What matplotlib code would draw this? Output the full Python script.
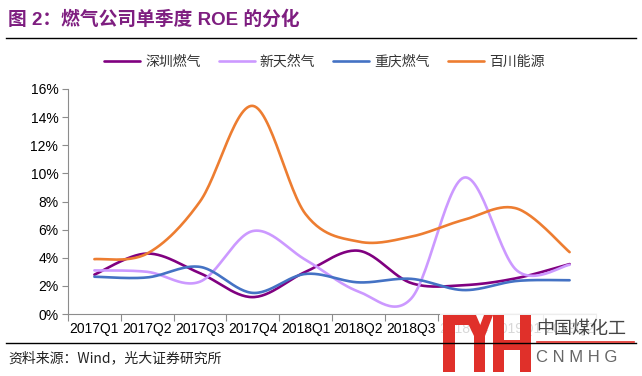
import numpy as np
import matplotlib
matplotlib.use("Agg")
import matplotlib.pyplot as plt
from matplotlib.patches import Rectangle, Polygon
from matplotlib import rcParams

rcParams['font.family'] = ['Liberation Sans', 'Noto Sans CJK SC', 'DejaVu Sans']
rcParams['axes.edgecolor'] = '#8c8c8c'
rcParams['xtick.color'] = '#8c8c8c'
rcParams['ytick.color'] = '#8c8c8c'
rcParams['xtick.labelcolor'] = 'black'
rcParams['ytick.labelcolor'] = 'black'

# data (ROE, %)
quarters = ['2017Q1', '2017Q2', '2017Q3', '2017Q4', '2018Q1',
            '2018Q2', '2018Q3', '2018Q4', '2019Q1', '2019Q2']
names = ['深圳燃气', '新天然气', '重庆燃气', '百川能源']
shenzhen = [2.8, 4.3, 2.9, 1.2, 3.0, 4.5, 2.2, 2.05, 2.55, 3.55]
xintian = [3.1, 3.0, 2.3, 5.9, 3.85, 1.6, 1.1, 9.7, 3.1, 3.5]
chongqing = [2.65, 2.6, 3.35, 1.5, 2.85, 2.25, 2.5, 1.7, 2.35, 2.4]
baichuan = [3.9, 4.3, 8.0, 14.8, 7.1, 5.15, 5.5, 6.7, 7.5, 4.4]
colors = ['#800080', '#CC99FF', '#4472C4', '#ED7D31']


def smooth(y, n=30):
    # Excel-like smoothed line (Catmull-Rom bezier)
    y = np.asarray(y, float)
    x = np.arange(len(y), dtype=float)
    px, py = [], []
    for i in range(len(y) - 1):
        x0, x3 = x[i], x[i + 1]
        y0, y3 = y[i], y[i + 1]
        xm = x[i - 1] if i > 0 else x0
        ym = y[i - 1] if i > 0 else y0
        xp = x[i + 2] if i + 2 < len(y) else x3
        yp = y[i + 2] if i + 2 < len(y) else y3
        x1, y1 = x0 + (x3 - xm) / 6, y0 + (y3 - ym) / 6
        x2, y2 = x3 - (xp - x0) / 6, y3 - (yp - y0) / 6
        t = np.linspace(0, 1, n)
        a, b, c, d = (1 - t) ** 3, 3 * (1 - t) ** 2 * t, 3 * (1 - t) * t ** 2, t ** 3
        px.extend(a * x0 + b * x1 + c * x2 + d * x3)
        py.extend(a * y0 + b * y1 + c * y2 + d * y3)
    return np.array(px), np.array(py)


fig = plt.figure(figsize=(6.42, 3.76), dpi=100)
ax = fig.add_axes([68 / 642, 1 - 314 / 376, 528 / 642, 225 / 376])

for vals, name, col in zip([shenzhen, xintian, chongqing, baichuan], names, colors):
    sx, sy = smooth(vals)
    ax.plot(sx, sy, color=col, lw=1.9, label=name, solid_capstyle='round')

ax.set_xlim(-0.5, len(quarters) - 0.5)
ax.set_ylim(0, 16)
ax.set_yticks(np.arange(0, 17, 2))
ax.set_yticklabels(['%d%%' % v for v in range(0, 17, 2)], fontsize=10)
ax.set_xticks(np.arange(-0.5, len(quarters), 1))
ax.set_xticklabels([])
ax.set_xticks(np.arange(len(quarters)), minor=True)
ax.set_xticklabels(quarters, minor=True, fontsize=10)
ax.tick_params(axis='x', which='major', length=5, width=0.8, direction='out')
ax.tick_params(axis='x', which='minor', length=0, pad=6)
ax.tick_params(axis='y', length=4, width=0.8, direction='out', pad=3)
for s in ['top', 'right']:
    ax.spines[s].set_visible(False)
ax.spines['left'].set_linewidth(0.8)
ax.spines['bottom'].set_linewidth(0.8)

leg = fig.legend(loc='center', bbox_to_anchor=(0.505, 1 - 62 / 376), ncol=4,
                 frameon=False, handlelength=2.6, handletextpad=0.35,
                 columnspacing=1.3, prop={'family': ['Noto Sans CJK SC'], 'size': 10})
for t in leg.get_texts():
    t.set_color('#333333')

# title and rules
fig.text(8 / 642, 1 - 19 / 376, '图 2：燃气公司单季度 ROE 的分化', fontsize=13.5,
         fontweight='bold', color='#7E1E80', va='center', ha='left',
         family=['Liberation Sans', 'Noto Sans CJK SC'])
fig.add_artist(plt.Line2D([6 / 642, 636 / 642], [1 - 38 / 376] * 2, color='black', lw=1))
fig.add_artist(plt.Line2D([6 / 642, 636 / 642], [1 - 343 / 376] * 2, color='black', lw=1))
fig.text(8 / 642, 1 - 358 / 376, '资料来源：Wind，光大证券研究所', fontsize=10,
         va='center', ha='left', color='#222222',
         family=['Noto Sans CJK SC', 'DejaVu Sans'])


# watermark logo (figure pixel coords)
def fx(p):
    return p / 642


def fy(p):
    return 1 - p / 376


fig.add_artist(Rectangle((fx(440), fy(376)), fx(202), 62 / 376, transform=fig.transFigure,
                         facecolor='white', alpha=0.85, edgecolor='none'))
red = '#E0302A'
for x0, y0, w, h in [(443, 315, 12, 57), (443, 315, 26, 10), (474, 336, 11, 36),
                     (493, 315, 11, 57), (520, 315, 11, 57), (493, 340, 38, 10)]:
    fig.add_artist(Rectangle((fx(x0), fy(y0 + h)), w / 642, h / 376,
                             transform=fig.transFigure, facecolor=red, edgecolor='none'))
# Y arms
fig.add_artist(Polygon([(fx(464), fy(315)), (fx(476), fy(315)), (fx(485), fy(336)), (fx(474), fy(336))],
                       closed=True, transform=fig.transFigure, facecolor=red, edgecolor='none'))
fig.add_artist(Polygon([(fx(484), fy(315)), (fx(493), fy(315)), (fx(485), fy(336)), (fx(476), fy(336))],
                       closed=True, transform=fig.transFigure, facecolor=red, edgecolor='none'))
fig.text(fx(536), fy(329), '中国煤化工', fontsize=13, color='#444444', va='center', ha='left',
         family=['Noto Sans CJK SC'])
fig.add_artist(plt.Line2D([fx(537), fx(634)], [fy(342)] * 2, color=red, lw=1.2))
fig.text(fx(536), fy(357), 'C N M H G', fontsize=12, color='#666666', va='center', ha='left',
         family=['Liberation Sans'])

fig.savefig('out.png', dpi=100)
